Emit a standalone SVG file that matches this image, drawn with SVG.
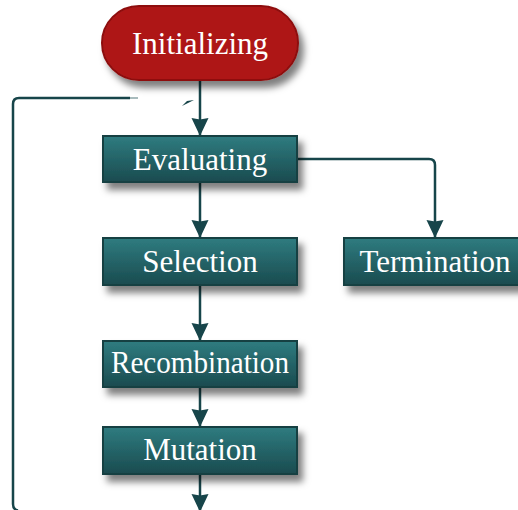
<svg xmlns="http://www.w3.org/2000/svg" width="518" height="510" viewBox="0 0 518 510">
  <defs>
    <linearGradient id="teal" x1="0" y1="0" x2="0" y2="1">
      <stop offset="0" stop-color="#2F7C80"/>
      <stop offset="1" stop-color="#1A4B4F"/>
    </linearGradient>
    <filter id="shadow" x="-20%" y="-30%" width="150%" height="180%">
      <feDropShadow dx="5" dy="7" stdDeviation="3.5" flood-color="#000" flood-opacity="0.5"/>
    </filter>
    <marker id="arrow" viewBox="0 0 18 18" refX="18" refY="9" markerWidth="18" markerHeight="18" markerUnits="userSpaceOnUse" orient="auto">
      <path d="M0,0.5 L18,9 L0,17.5 L1.5,9 Z" fill="#17454A"/>
    </marker>
    <style>
      .box { fill: url(#teal); stroke: #143F43; stroke-width: 2; filter: url(#shadow); }
      .start { fill: #AE1616; stroke: #8E1111; stroke-width: 2; filter: url(#shadow); }
      .label { font-family: "Liberation Serif", "Times New Roman", serif; font-size: 31px; fill: #FFFFFF; text-anchor: middle; }
      .edge { fill: none; stroke: #17454A; stroke-width: 2.5; }
    </style>
  </defs>

  <g id="connectors">
    <path class="edge" d="M200,80 L200,136" marker-end="url(#arrow)"/>
    <path class="edge" d="M200,182 L200,238" marker-end="url(#arrow)"/>
    <path class="edge" d="M297,159 L429,159 Q435,159 435,165 L435,238" marker-end="url(#arrow)"/>
    <path class="edge" d="M200,285 L200,341" marker-end="url(#arrow)"/>
    <path class="edge" d="M200,387 L200,427" marker-end="url(#arrow)"/>
    <path class="edge" d="M200,474 L200,512" marker-end="url(#arrow)"/>
    <path class="edge" d="M130,98 L19,98 Q13,98 13,104 L13,504 Q13,509.5 18,510.5"/>
    <path d="M130,98 L138,98" stroke="#6E8E90" stroke-width="1.2" fill="none"/>
    <polygon points="182,106 187,101 194,100" fill="#17454A"/>
  </g>

  <g id="node-initializing">
    <rect class="start" x="102" y="6" width="196" height="74" rx="37" ry="37"/>
    <text class="label" x="200" y="54">Initializing</text>
  </g>
  <g id="node-evaluating">
    <rect class="box" x="103" y="136" width="194" height="46"/>
    <text class="label" x="200" y="170">Evaluating</text>
  </g>
  <g id="node-selection">
    <rect class="box" x="103" y="238" width="194" height="47"/>
    <text class="label" x="200" y="272">Selection</text>
  </g>
  <g id="node-termination">
    <rect class="box" x="344" y="238" width="182" height="47"/>
    <text class="label" x="435" y="272">Termination</text>
  </g>
  <g id="node-recombination">
    <rect class="box" x="103" y="341" width="194" height="46"/>
    <text class="label" x="200" y="373" textLength="178" lengthAdjust="spacingAndGlyphs">Recombination</text>
  </g>
  <g id="node-mutation">
    <rect class="box" x="103" y="427" width="194" height="47"/>
    <text class="label" x="200" y="460">Mutation</text>
  </g>
</svg>
